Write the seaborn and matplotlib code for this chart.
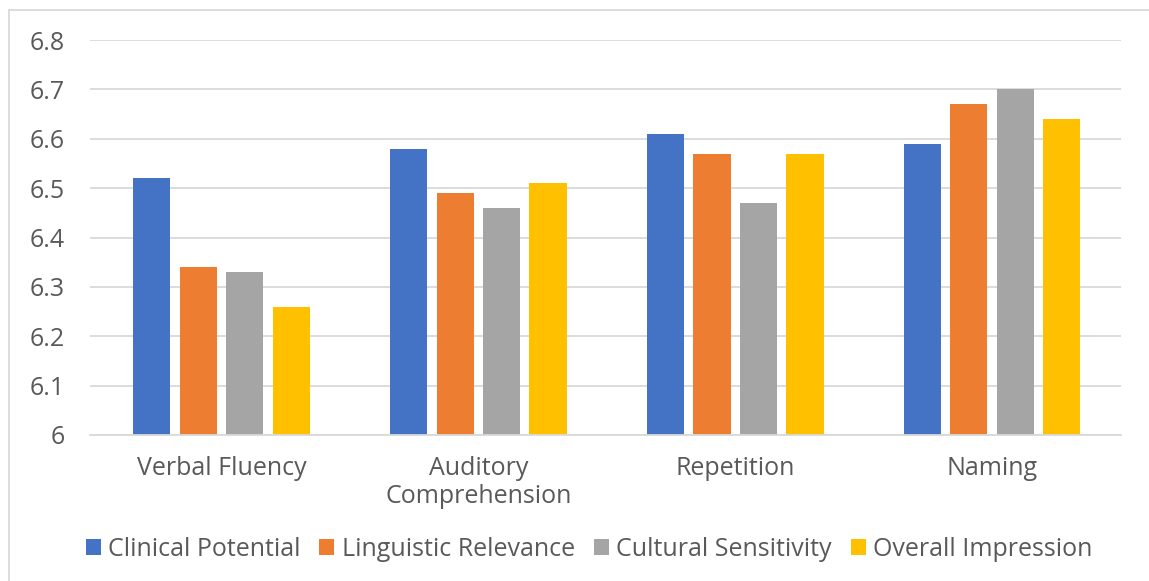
import pandas as pd
import seaborn as sns
import matplotlib.pyplot as plt
from matplotlib.patches import Rectangle, Patch

# data
tasks = ["Verbal Fluency", "Auditory\nComprehension", "Repetition", "Naming"]
criteria = ["Clinical Potential", "Linguistic Relevance", "Cultural Sensitivity", "Overall Impression"]
clinical = [6.52, 6.58, 6.61, 6.59]
linguistic = [6.34, 6.49, 6.57, 6.67]
cultural = [6.33, 6.46, 6.47, 6.70]
overall = [6.26, 6.51, 6.57, 6.64]
yticks = [6, 6.1, 6.2, 6.3, 6.4, 6.5, 6.6, 6.7, 6.8]
ytick_labels = ["6", "6.1", "6.2", "6.3", "6.4", "6.5", "6.6", "6.7", "6.8"]

colors = ["#4472C4", "#ED7D31", "#A5A5A5", "#FFC000"]

rows = []
for name, vals in zip(criteria, [clinical, linguistic, cultural, overall]):
    for t, v in zip(tasks, vals):
        rows.append({"Task": t, "Criterion": name, "Score": v})
df = pd.DataFrame(rows)

sns.set_style("white")
plt.rcParams['font.family'] = ['Open Sans', 'DejaVu Sans']
text_col = "#595959"
fs = 18

fig = plt.figure(figsize=(11.49, 5.81), dpi=100)
ax = fig.add_axes([90/1149, 1 - 435/581, 1031/1149, 395/581])

sns.barplot(data=df, x="Task", y="Score", hue="Criterion", hue_order=criteria,
            palette=colors, width=0.724, gap=0.2, ax=ax, legend=False,
            saturation=1, errorbar=None, linewidth=0)

ax.set_ylim(6, 6.8)
ax.set_yticks(yticks)
ax.set_yticklabels(ytick_labels)
ax.set_xlim(-0.512, 3.502)
ax.set_xlabel("")
ax.set_ylabel("")
ax.yaxis.grid(True, color="#D9D9D9", linewidth=1.3)
ax.set_axisbelow(True)
for s in ["top", "right", "left"]:
    ax.spines[s].set_visible(False)
ax.spines["bottom"].set_color("#D9D9D9")
ax.spines["bottom"].set_linewidth(1.3)
ax.tick_params(axis="both", length=0, labelsize=fs, colors=text_col)
ax.tick_params(axis="y", pad=18)
ax.tick_params(axis="x", pad=15)
for lbl in ax.get_xticklabels():
    lbl.set_linespacing(1.15)

handles = [Patch(facecolor=c, edgecolor="none") for c in colors]
fig.legend(handles, criteria, loc="center", bbox_to_anchor=(589/1149, 1 - 549/581),
           ncol=4, frameon=False, fontsize=fs, handlelength=0.6, handleheight=0.6,
           handletextpad=0.3, columnspacing=0.75, labelcolor=text_col)

# chart frame, only its left and top edges fall inside the picture
fig.patches.append(Rectangle((9/1149, -0.05), 1.2, 1.05 - 10/581, transform=fig.transFigure,
                             fill=False, edgecolor="#D9D9D9", linewidth=1.3))

fig.savefig("out.png", dpi=100, facecolor="white")
